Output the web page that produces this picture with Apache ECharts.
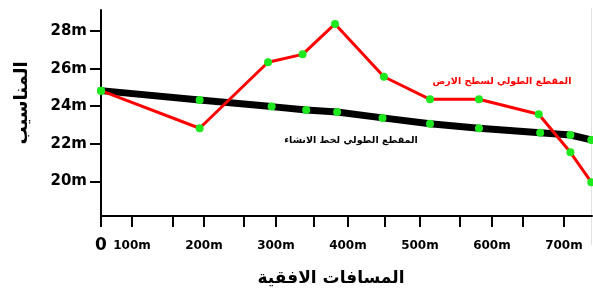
<!DOCTYPE html>
<html>
<head>
<meta charset="utf-8">
<script src="https://cdn.jsdelivr.net/npm/echarts@6/dist/echarts.min.js"></script>
<style>
  html, body { margin: 0; padding: 0; background: #fff; }
  #chart { width: 593px; height: 293px; }
</style>
</head>
<body>
<div id="chart"></div>
<script>
  // المقطع الطولي لسطح الارض (red line)
  var groundX = [57, 194, 289, 337, 382, 450, 514, 582, 665, 709, 738];
  var groundY = [24.83, 22.83, 26.34, 26.76, 28.38, 25.57, 24.37, 24.37, 23.57, 21.55, 19.96];
  // المقطع الطولي لخط الانشاء (black line)
  var designX = [57, 194, 294, 342, 385, 448, 514, 582, 667, 709, 738];
  var designY = [24.83, 24.33, 23.98, 23.80, 23.69, 23.38, 23.07, 22.83, 22.59, 22.47, 22.21];

  var xLabelValues = [57, 100, 200, 300, 400, 500, 600, 700];
  var xTickValues = [57, 100, 157, 200, 255, 300, 353, 400, 451, 500, 555, 600, 643, 700];
  var yTickValues = [20, 22, 24, 26, 28];

  function pairs(xs, ys) {
    return xs.map(function (x, i) { return [x, ys[i]]; });
  }

  var font = 'DejaVu Sans';
  var myChart = echarts.init(document.getElementById('chart'));

  myChart.setOption({
    animation: false,
    backgroundColor: '#fff',
    grid: { left: 101, right: 1, top: 10, bottom: 77 },
    xAxis: {
      type: 'value',
      min: 57,
      max: 739,
      splitLine: { show: false },
      axisLine: { lineStyle: { color: '#000', width: 2 } },
      axisTick: {
        customValues: xTickValues,
        length: 11,
        lineStyle: { color: '#000', width: 2 }
      },
      axisLabel: {
        customValues: xLabelValues,
        margin: 30,
        verticalAlign: 'middle',
        color: '#000',
        fontFamily: font,
        fontWeight: 'bold',
        fontSize: 12,
        formatter: function (v) {
          return v === 57 ? '{z|0}' : v + 'm';
        },
        rich: {
          z: { fontSize: 17, fontFamily: font, color: '#000' }
        }
      }
    },
    yAxis: {
      type: 'value',
      min: 18.16,
      max: 29.12,
      splitLine: { show: false },
      axisLine: { show: true, lineStyle: { color: '#000', width: 2 } },
      axisTick: {
        show: true,
        customValues: yTickValues,
        length: 11,
        lineStyle: { color: '#000', width: 2 }
      },
      axisLabel: {
        customValues: yTickValues,
        margin: 14,
        color: '#000',
        fontFamily: font,
        fontWeight: 'bold',
        fontSize: 15,
        formatter: function (v) { return v + 'm'; }
      }
    },
    series: [
      {
        type: 'line',
        data: pairs(designX, designY),
        clip: false,
        symbol: 'circle',
        symbolSize: 8,
        lineStyle: { color: '#000', width: 7 },
        itemStyle: { color: '#1ee81e' }
      },
      {
        type: 'line',
        data: pairs(groundX, groundY),
        clip: false,
        symbol: 'circle',
        symbolSize: 8,
        lineStyle: { color: '#ff0000', width: 3 },
        itemStyle: { color: '#1ee81e' }
      }
    ],
    graphic: [
      {
        type: 'line', z: -1,
        shape: { x1: 591.5, y1: 8, x2: 591.5, y2: 245 },
        style: { stroke: '#e2e2e2', lineWidth: 1 }
      },
      {
        type: 'text', x: 22, y: 103, rotation: Math.PI / 2,
        style: { text: 'المناسيب', font: 'bold 18px ' + font, fill: '#000', align: 'center', verticalAlign: 'middle' }
      },
      {
        type: 'text', x: 331, y: 279,
        style: { text: 'المسافات الافقية', font: 'bold 17px ' + font, fill: '#000', align: 'center', verticalAlign: 'middle' }
      },
      {
        type: 'text', x: 502, y: 82,
        style: { text: 'المقطع الطولي لسطح الارض', font: 'bold 9.5px ' + font, fill: '#ff0000', align: 'center', verticalAlign: 'middle' }
      },
      {
        type: 'text', x: 351, y: 141,
        style: { text: 'المقطع الطولي لخط الانشاء', font: 'bold 9.5px ' + font, fill: '#000', align: 'center', verticalAlign: 'middle' }
      }
    ]
  });
</script>
</body>
</html>
